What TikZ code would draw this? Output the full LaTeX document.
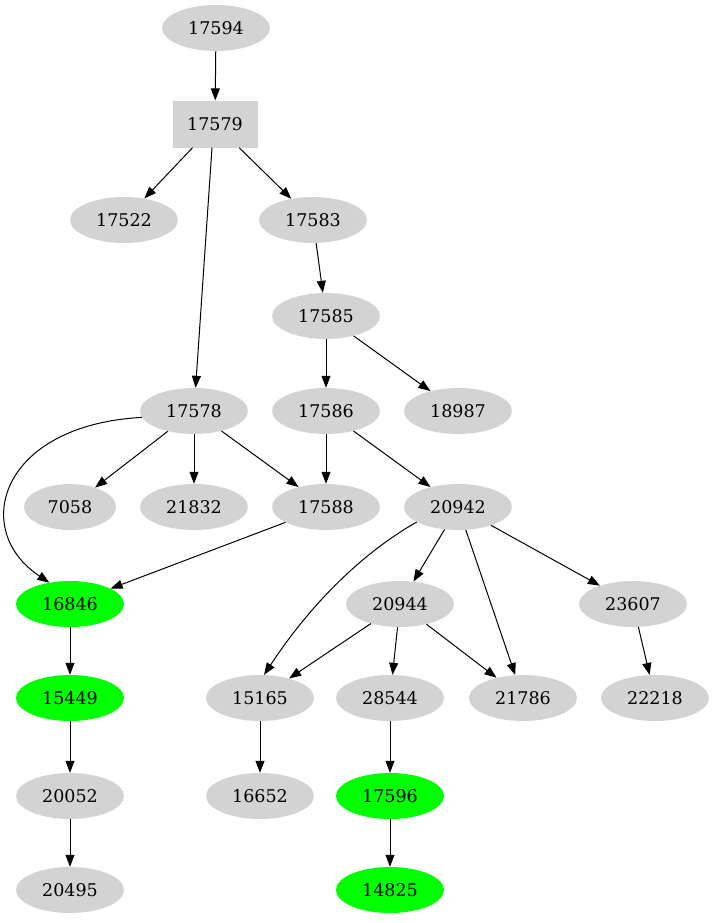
\documentclass[tikz,border=0pt]{standalone}
\usepackage{fontspec}
\setmainfont{DejaVu Serif}
\usetikzlibrary{shapes.geometric,arrows.meta}
\definecolor{nodegray}{RGB}{211,211,211}
\definecolor{nodegreen}{RGB}{0,255,0}
\tikzset{
  gnode/.style={ellipse,fill=nodegray,draw=none,inner sep=0pt,minimum width=108bp,minimum height=46bp,font=\fontsize{17.5bp}{20bp}\selectfont},
  gsmall/.style={gnode,minimum width=92bp},
  green/.style={fill=nodegreen},
  gbox/.style={rectangle,fill=nodegray,draw=none,inner sep=0pt,minimum width=85bp,minimum height=47bp,font=\fontsize{17.5bp}{20bp}\selectfont},
  edge/.style={draw=black,line width=1bp,-{Triangle[length=12bp,width=9bp]}}
}
\begin{document}
\begin{tikzpicture}[x=1bp,y=-1bp]
\useasboundingbox (0,0) rectangle (715,923);
\node[gnode] (n17594) at (216,28) {17594};
\node[gbox] (n17579) at (215,124) {17579};
\node[gnode] (n17522) at (124,220) {17522};
\node[gnode] (n17583) at (313,220) {17583};
\node[gnode] (n17585) at (326,316) {17585};
\node[gnode] (n17578) at (194,411) {17578};
\node[gnode] (n17586) at (326,411) {17586};
\node[gnode] (n18987) at (458,411) {18987};
\node[gsmall] (n7058) at (70,507) {7058};
\node[gnode] (n21832) at (194,507) {21832};
\node[gnode] (n17588) at (326,507) {17588};
\node[gnode] (n20942) at (458,507) {20942};
\node[gnode,green] (n16846) at (70,604) {16846};
\node[gnode] (n20944) at (400,604) {20944};
\node[gnode] (n23607) at (633,604) {23607};
\node[gnode,green] (n15449) at (70,698) {15449};
\node[gnode] (n15165) at (260,698) {15165};
\node[gnode] (n28544) at (390,698) {28544};
\node[gnode] (n21786) at (523,698) {21786};
\node[gnode] (n22218) at (655,698) {22218};
\node[gnode] (n20052) at (70,796) {20052};
\node[gnode] (n16652) at (260,796) {16652};
\node[gnode,green] (n17596) at (390,796) {17596};
\node[gnode] (n20495) at (70,890) {20495};
\node[gnode,green] (n14825) at (390,890) {14825};

\draw[edge] (n17594) -- (n17579);
\draw[edge] (n17579) -- (n17522);
\draw[edge] (n17579) -- (n17583);
\draw[edge] (n17579.south) ++(-3,0) coordinate (c1) (c1) -- (n17578);
\draw[edge] (n17583) -- (n17585);
\draw[edge] (n17585) -- (n17586);
\draw[edge] (n17585) -- (n18987);
\draw[edge] (n17578.187) .. controls (0,425) and (-30,530) .. (n16846.134);
\draw[edge] (n17578) -- (n7058);
\draw[edge] (n17578) -- (n21832);
\draw[edge] (n17578) -- (n17588);
\draw[edge] (n17586) -- (n17588);
\draw[edge] (n17586) -- (n20942);
\draw[edge] (n17588) -- (n16846);
\draw[edge] (n20942.200) .. controls (350,560) and (300,620) .. (n15165.80);
\draw[edge] (n20942) -- (n20944);
\draw[edge] (n20942) -- (n21786);
\draw[edge] (n20942) -- (n23607);
\draw[edge] (n20944) -- (n15165);
\draw[edge] (n20944) -- (n28544);
\draw[edge] (n20944) -- (n21786);
\draw[edge] (n23607) -- (n22218);
\draw[edge] (n16846) -- (n15449);
\draw[edge] (n15449) -- (n20052);
\draw[edge] (n20052) -- (n20495);
\draw[edge] (n15165) -- (n16652);
\draw[edge] (n28544) -- (n17596);
\draw[edge] (n17596) -- (n14825);
\end{tikzpicture}
\end{document}
